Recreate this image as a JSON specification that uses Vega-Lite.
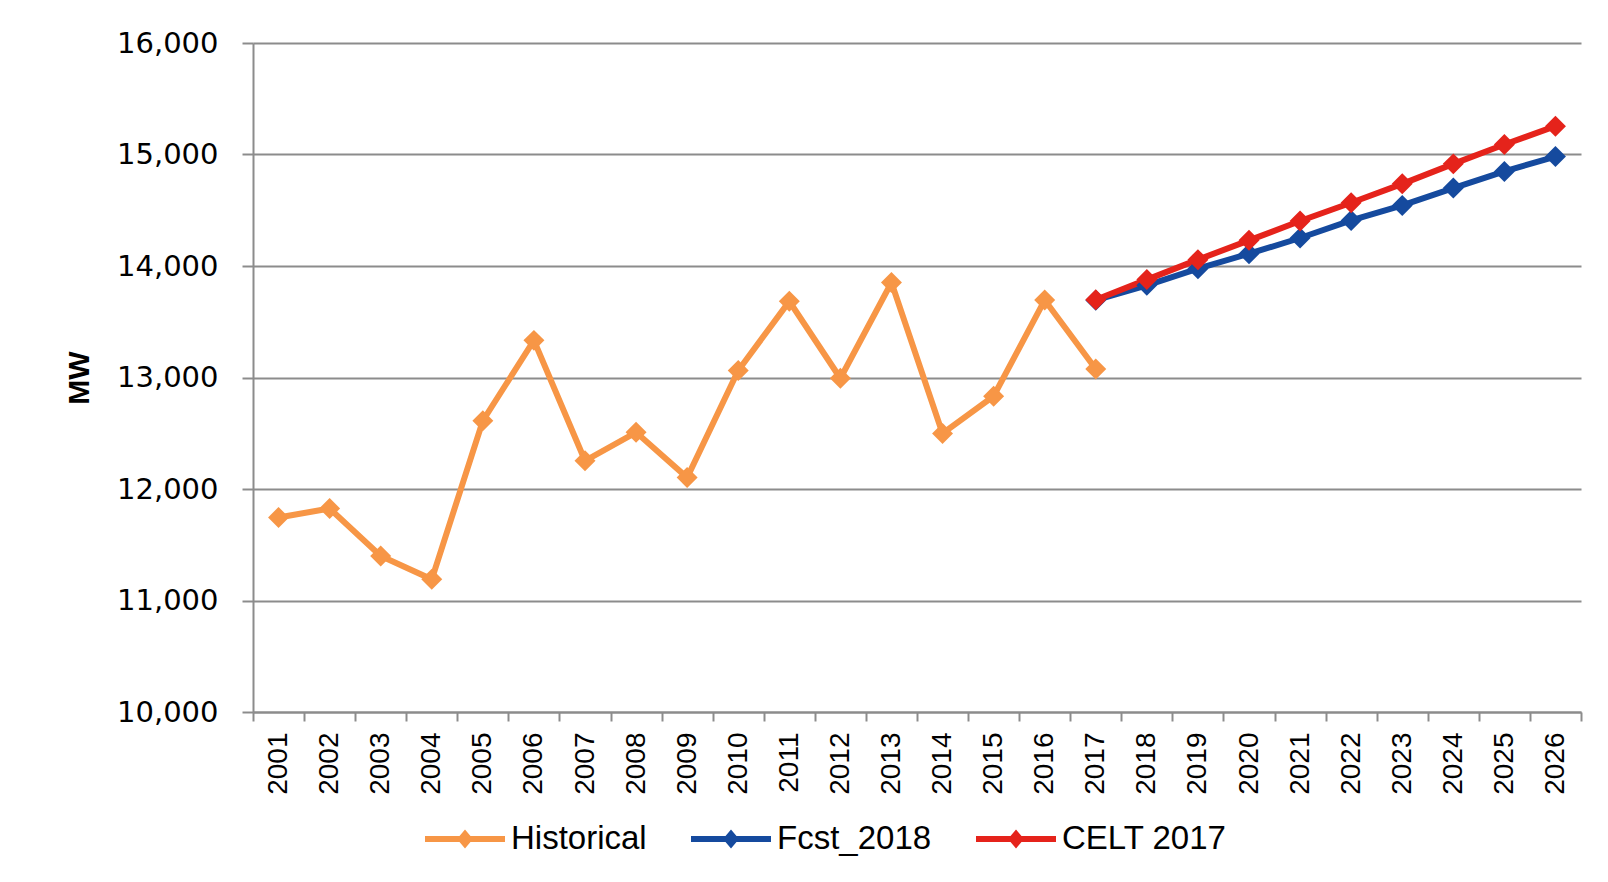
{
  "$schema": "https://vega.github.io/schema/vega-lite/v6.json",
  "autosize": "none",
  "width": 1328,
  "height": 669,
  "padding": {"left": 253, "top": 43, "right": 27, "bottom": 170},
  "background": "white",
  "config": {
    "view": {"stroke": null},
    "axis": {
      "domainColor": "#8C8C8C", "domainWidth": 2,
      "tickColor": "#8C8C8C", "tickWidth": 2,
      "gridColor": "#8C8C8C", "gridWidth": 2,
      "labelColor": "#000000"
    }
  },
  "data": {"values": [
    {"year": "2001", "series": "Historical", "value": 11745},
    {"year": "2002", "series": "Historical", "value": 11825},
    {"year": "2003", "series": "Historical", "value": 11400},
    {"year": "2004", "series": "Historical", "value": 11190},
    {"year": "2005", "series": "Historical", "value": 12612},
    {"year": "2006", "series": "Historical", "value": 13333},
    {"year": "2007", "series": "Historical", "value": 12253},
    {"year": "2008", "series": "Historical", "value": 12508},
    {"year": "2009", "series": "Historical", "value": 12103},
    {"year": "2010", "series": "Historical", "value": 13063},
    {"year": "2011", "series": "Historical", "value": 13683},
    {"year": "2012", "series": "Historical", "value": 12993},
    {"year": "2013", "series": "Historical", "value": 13852},
    {"year": "2014", "series": "Historical", "value": 12498},
    {"year": "2015", "series": "Historical", "value": 12832},
    {"year": "2016", "series": "Historical", "value": 13695},
    {"year": "2017", "series": "Historical", "value": 13076},
    {"year": "2017", "series": "Fcst_2018", "value": 13693},
    {"year": "2018", "series": "Fcst_2018", "value": 13827},
    {"year": "2019", "series": "Fcst_2018", "value": 13976},
    {"year": "2020", "series": "Fcst_2018", "value": 14110},
    {"year": "2021", "series": "Fcst_2018", "value": 14251},
    {"year": "2022", "series": "Fcst_2018", "value": 14409},
    {"year": "2023", "series": "Fcst_2018", "value": 14543},
    {"year": "2024", "series": "Fcst_2018", "value": 14699},
    {"year": "2025", "series": "Fcst_2018", "value": 14848},
    {"year": "2026", "series": "Fcst_2018", "value": 14982},
    {"year": "2017", "series": "CELT 2017", "value": 13698},
    {"year": "2018", "series": "CELT 2017", "value": 13878},
    {"year": "2019", "series": "CELT 2017", "value": 14057},
    {"year": "2020", "series": "CELT 2017", "value": 14230},
    {"year": "2021", "series": "CELT 2017", "value": 14403},
    {"year": "2022", "series": "CELT 2017", "value": 14567},
    {"year": "2023", "series": "CELT 2017", "value": 14737},
    {"year": "2024", "series": "CELT 2017", "value": 14916},
    {"year": "2025", "series": "CELT 2017", "value": 15090},
    {"year": "2026", "series": "CELT 2017", "value": 15254}
  ]},
  "mark": {
    "type": "line",
    "strokeWidth": 6,
    "strokeJoin": "miter",
    "point": {"shape": "diamond", "size": 440, "filled": true, "opacity": 1}
  },
  "encoding": {
    "x": {
      "field": "year", "type": "ordinal", "bandPosition": 0.5,
      "scale": {"type": "band", "paddingInner": 0, "paddingOuter": 0},
      "axis": {
        "title": null, "grid": false, "labelAngle": -90,
        "tickBand": "extent", "tickSize": 9, "labelPadding": 11,
        "labelFont": "Liberation Sans", "labelFontSize": 28
      }
    },
    "y": {
      "field": "value", "type": "quantitative",
      "scale": {"domain": [10000, 16000], "nice": false, "zero": false},
      "axis": {
        "title": "MW", "values": [10000, 11000, 12000, 13000, 14000, 15000, 16000],
        "format": ",.0f", "grid": true, "tickSize": 11, "labelPadding": 24,
        "labelFont": "DejaVu Sans", "labelFontSize": 29,
        "titleFont": "Liberation Sans", "titleFontSize": 30, "titleFontWeight": "bold",
        "titleColor": "#000000", "titlePadding": 22
      }
    },
    "color": {
      "field": "series", "type": "nominal",
      "sort": ["Historical", "Fcst_2018", "CELT 2017"],
      "scale": {"domain": ["Historical", "Fcst_2018", "CELT 2017"], "range": ["#F79646", "#154A9E", "#E5231B"]},
      "legend": {
        "title": null, "orient": "none", "direction": "horizontal",
        "legendX": 172, "legendY": 756,
        "symbolType": "M-1,-0.075L1,-0.075L1,0.075L-1,0.075Z M0,-0.24L0.2,0L0,0.24L-0.2,0Z",
        "symbolSize": 6400, "symbolStrokeWidth": 0,
        "labelFont": "Liberation Sans", "labelFontSize": 33, "labelColor": "#000000",
        "labelOffset": 6, "columnPadding": 44, "labelLimit": 400,
        "encode": {"symbols": {"update": {"fill": {"scale": "color", "field": "value"}, "opacity": {"value": 1}, "stroke": {"value": "transparent"}}}}
      }
    },
    "order": {"field": "year"}
  }
}
